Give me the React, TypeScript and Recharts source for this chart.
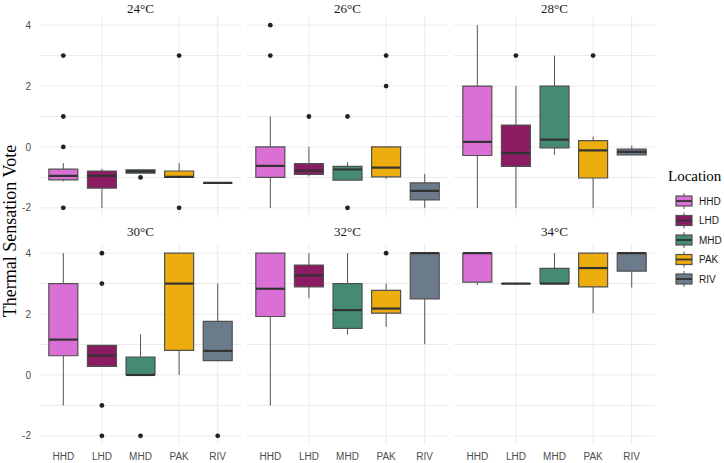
import React from "react";
import { ComposedChart, Bar, Scatter, XAxis, YAxis, CartesianGrid } from "recharts";

const temps = ["24°C", "26°C", "28°C", "30°C", "32°C", "34°C"];
const locations = ["HHD", "LHD", "MHD", "PAK", "RIV"];
const fills = ["#DA70D6", "#8B1C62", "#458B74", "#EEAD0E", "#6C7B8B"];
const yTicks = [-2, -1, 0, 1, 2, 3, 4];

// one row per temperature, one value per location (HHD, LHD, MHD, PAK, RIV)
const whiskerLow = [
  [-1.13, -2, -0.86, -1.0, -1.18],
  [-2, -0.97, -1.09, -1.05, -2],
  [-2, -2, -0.26, -2, -0.26],
  [-1, 0.28, 0, 0, 0.47],
  [-1, 2.52, 1.33, 1.58, 1.01],
  [2.95, 3, 3, 2.03, 2.87],
];
const lowerQuartile = [
  [-1.08, -1.35, -0.86, -1.0, -1.18],
  [-1.0, -0.9, -1.09, -0.98, -1.74],
  [-0.28, -0.64, -0.03, -1.02, -0.26],
  [0.63, 0.28, 0, 0.81, 0.47],
  [1.92, 2.89, 1.53, 2.03, 2.5],
  [3.05, 3, 3, 2.89, 3.41],
];
const median = [
  [-0.95, -0.95, -0.8, -0.98, -1.18],
  [-0.62, -0.78, -0.74, -0.68, -1.44],
  [0.17, -0.2, 0.24, -0.11, -0.16],
  [1.16, 0.64, 0, 3, 0.79],
  [2.83, 3.27, 2.13, 2.18, 4],
  [4, 3, 3, 3.51, 4],
];
const upperQuartile = [
  [-0.73, -0.79, -0.75, -0.79, -1.18],
  [0, -0.55, -0.64, 0, -1.18],
  [2, 0.72, 2, 0.21, -0.07],
  [3, 0.97, 0.59, 4, 1.76],
  [4, 3.61, 3, 2.78, 4],
  [4, 3, 3.5, 4, 4],
];
const whiskerHigh = [
  [-0.53, -0.72, -0.75, -0.53, -1.18],
  [1, 0, -0.5, 0, -0.89],
  [4, 2, 3, 0.34, 0.04],
  [4, 0.97, 1.33, 4, 3],
  [4, 4, 4, 3, 4],
  [4, 3, 4, 4, 4],
];
const outliers = [
  [[3, 1, 0, -2], [], [-1], [3, -2], []],
  [[4, 3], [1], [1, -2], [3, 2], []],
  [[], [3], [], [3], []],
  [[], [4, 3, -1, -2], [-2], [], [-2]],
  [[], [], [], [4], []],
  [[], [], [], [], []],
];

const OUTLINE = "#505050";
const SERIF = "'Liberation Serif', 'Times New Roman', serif";
const SANS = "'Liberation Sans', Arial, sans-serif";

const Nothing = () => <g />;

const Whisker = (p: any) => {
  const cx = p.x + p.width / 2;
  return <line x1={cx} x2={cx} y1={p.y} y2={p.y + p.height} stroke="#555" strokeWidth={1} />;
};

const BoxLow = (p: any) => {
  const { x, y, width, height, payload } = p;
  return (
    <g>
      <rect x={x} y={y} width={width} height={Math.max(height, 0)} fill={payload.color} />
      <path d={`M${x},${y} V${y + height} H${x + width} V${y}`} fill="none" stroke={OUTLINE} strokeWidth={1.2} />
    </g>
  );
};

const BoxHigh = (p: any) => {
  const { x, y, width, height, payload } = p;
  return (
    <g>
      <rect x={x} y={y} width={width} height={Math.max(height, 0)} fill={payload.color} />
      <path d={`M${x},${y + height} V${y} H${x + width} V${y + height}`} fill="none" stroke={OUTLINE} strokeWidth={1.2} />
      <line x1={x} x2={x + width} y1={y + height} y2={y + height} stroke="#333" strokeWidth={2.2} />
    </g>
  );
};

const Dot = (p: any) => <circle cx={p.cx} cy={p.cy} r={2.4} fill="#222" />;

function Panel({ idx }: { idx: number }) {
  const col = idx % 3;
  const row = Math.floor(idx / 3);
  const plotLeft = 40 + 207 * col;
  const showY = col === 0;
  const showX = row === 1;
  const top = row === 0 ? 16 : 244;
  const width = showY ? plotLeft + 201 : 201;
  const height = showX ? 219 : 201;

  const rows = locations.map((loc, j) => ({
    loc,
    color: fills[j],
    base: whiskerLow[idx][j],
    wLow: lowerQuartile[idx][j] - whiskerLow[idx][j],
    bLow: median[idx][j] - lowerQuartile[idx][j],
    bHigh: upperQuartile[idx][j] - median[idx][j],
    wHigh: whiskerHigh[idx][j] - upperQuartile[idx][j],
  }));
  const dots = locations.flatMap((loc, j) => outliers[idx][j].map((v) => ({ loc, v })));

  return (
    <div style={{ position: "absolute", left: showY ? 0 : plotLeft, top }}>
      <ComposedChart
        width={width}
        height={height}
        data={rows}
        margin={{ top: 0, right: 0, bottom: 0, left: 0 }}
        barCategoryGap="12.5%"
      >
        <CartesianGrid stroke="#ebebeb" strokeWidth={1} syncWithTicks />
        <XAxis
          dataKey="loc"
          type="category"
          allowDuplicatedCategory={false}
          hide={!showX}
          height={18}
          padding={{ left: 4, right: 4 }}
          axisLine={false}
          tickLine={false}
          tickSize={6}
          tickMargin={2}
          tick={{ fontSize: 10, fill: "#4d4d4d", fontFamily: SANS }}
        />
        <YAxis
          type="number"
          domain={[-2.3, 4.3]}
          ticks={yTicks}
          allowDataOverflow
          hide={!showY}
          width={40}
          axisLine={false}
          tickLine={false}
          tickSize={6}
          tickMargin={3}
          tickFormatter={(v: number) => (v % 2 === 0 ? String(v) : "")}
          tick={{ fontSize: 10, fill: "#4d4d4d", fontFamily: SANS }}
        />
        <Bar dataKey="base" stackId="b" shape={Nothing} isAnimationActive={false} />
        <Bar dataKey="wLow" stackId="b" shape={Whisker} isAnimationActive={false} />
        <Bar dataKey="bLow" stackId="b" shape={BoxLow} isAnimationActive={false} />
        <Bar dataKey="bHigh" stackId="b" shape={BoxHigh} isAnimationActive={false} />
        <Bar dataKey="wHigh" stackId="b" shape={Whisker} isAnimationActive={false} />
        {dots.length > 0 && (
          <Scatter data={dots} dataKey="v" shape={Dot} isAnimationActive={false} />
        )}
      </ComposedChart>
    </div>
  );
}

export default function App() {
  const legendY = [201, 220.5, 240, 259.5, 279];
  return (
    <div
      style={{
        position: "absolute",
        left: 0,
        top: 0,
        width: 724,
        height: 463,
        background: "#fff",
        overflow: "hidden",
      }}
    >
      <svg width={724} height={463} style={{ position: "absolute", left: 0, top: 0 }}>
        {temps.map((t, i) => (
          <text
            key={t}
            x={140.5 + 207 * (i % 3)}
            y={i < 3 ? 8.5 : 231.5}
            textAnchor="middle"
            dominantBaseline="central"
            fontFamily={SERIF}
            fontSize={13}
            fill="#1a1a1a"
          >
            {t}
          </text>
        ))}
        <text
          transform="translate(10,231) rotate(-90)"
          textAnchor="middle"
          dominantBaseline="central"
          fontFamily={SERIF}
          fontSize={18}
          fill="#000"
        >
          Thermal Sensation Vote
        </text>
        <text x={668} y={176} dominantBaseline="central" fontFamily={SERIF} fontSize={15} fill="#000">
          Location
        </text>
        {locations.map((loc, j) => {
          const cy = legendY[j];
          return (
            <g key={loc}>
              <line x1={684} x2={684} y1={cy - 8} y2={cy + 8} stroke="#555" strokeWidth={1} />
              <rect x={676} y={cy - 5} width={16} height={10} fill={fills[j]} stroke={OUTLINE} strokeWidth={1.2} />
              <line x1={676} x2={692} y1={cy} y2={cy} stroke="#333" strokeWidth={1.8} />
              <text x={699} y={cy} dominantBaseline="central" fontFamily={SANS} fontSize={10} fill="#1a1a1a">
                {loc}
              </text>
            </g>
          );
        })}
      </svg>
      {temps.map((t, i) => (
        <Panel key={t} idx={i} />
      ))}
    </div>
  );
}
